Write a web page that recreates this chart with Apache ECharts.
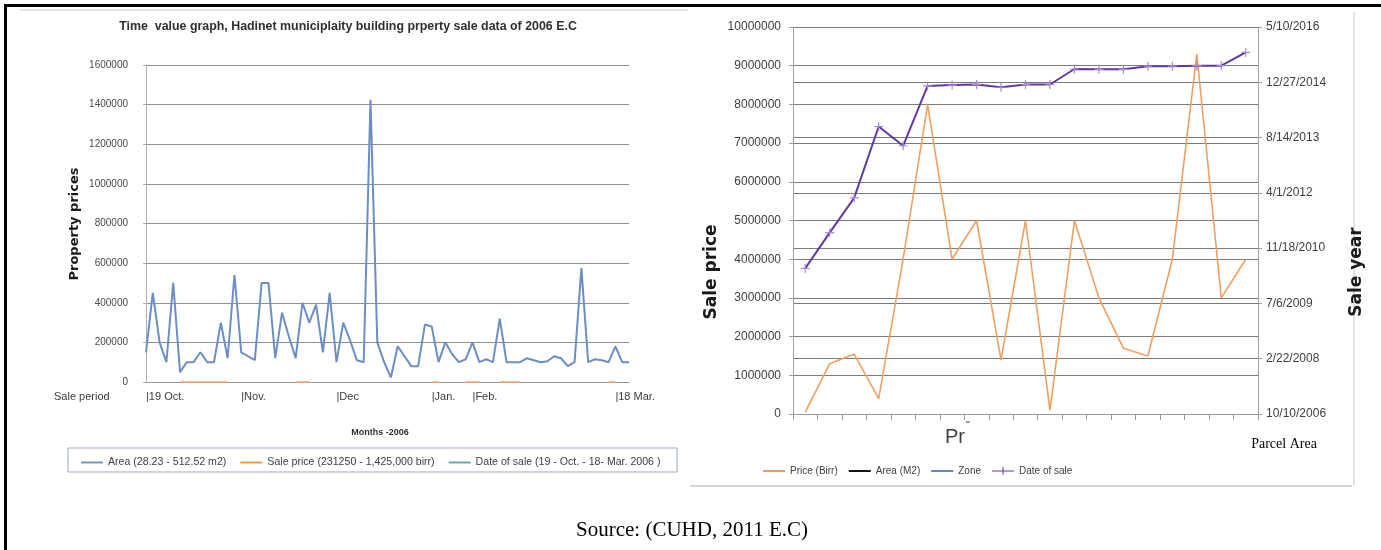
<!DOCTYPE html>
<html>
<head>
<meta charset="utf-8">
<script src="https://cdn.jsdelivr.net/npm/echarts@6/dist/echarts.min.js"></script>
<style>
  html, body { margin: 0; padding: 0; background: #fff; }
  #chart { width: 1381px; height: 550px; }
</style>
</head>
<body>
<div id="chart"></div>
<script>
// ---- Left panel: Hadinet property sales, Oct - Mar 2006 E.C ----
const salePrices = [
  150000, 450000, 200000, 100000, 500000, 50000, 100000, 100000, 150000, 100000,
  100000, 300000, 120000, 540000, 150000, 130000, 110000, 500000, 500000, 120000,
  350000, 230000, 120000, 400000, 300000, 390000, 150000, 450000, 100000, 300000,
  210000, 110000, 100000, 1425000, 200000, 100000, 23125, 180000, 130000, 80000,
  80000, 290000, 280000, 100000, 200000, 140000, 100000, 115000, 200000, 100000,
  115000, 100000, 320000, 100000, 100000, 100000, 120000, 110000, 100000, 105000,
  130000, 120000, 80000, 100000, 575000, 100000, 115000, 110000, 100000, 180000,
  100000, 100000
];
// second series sits on the baseline; visible stretches only
const baselineTrace = [
  null, null, null, null, null, 0, 0, 0, 0, 0,
  0, 0, 0, null, null, null, null, null, null, null,
  null, null, 0, 0, 0, null, null, null, null, null,
  null, null, null, null, null, null, null, null, null, null,
  null, null, 0, 0, null, null, null, 0, 0, 0,
  null, null, 0, 0, 0, 0, null, null, null, null,
  null, null, null, null, null, null, null, null, 0, 0,
  null, null
];
const periodLabels = { 0: '|19 Oct.', 14: '|Nov.', 28: '|Dec', 42: '|Jan.', 48: '|Feb.', 69: '|18 Mar.' };
const leftNames = ['Area (28.23 - 512.52 m2)', 'Sale price (231250 - 1,425,000 birr)', 'Date of sale (19 - Oct. - 18- Mar. 2006 )'];

// ---- Right panel: parcel sales, price vs date of sale ----
const parcelPrice = [
  50000, 1300000, 1550000, 400000, 4000000, 8000000, 4000000, 5000000, 1400000, 5000000,
  100000, 5000000, 3000000, 1700000, 1500000, 4000000, 9300000, 3000000, 4000000
];
// date of sale as spreadsheet day serials
const parcelDate = [
  40317, 40640, 40955, 41600, 41426, 41967, 41975, 41980, 41955, 41980,
  41980, 42120, 42117, 42117, 42146, 42146, 42150, 42150, 42270
];
const dateTicks = ['10/10/2006', '2/22/2008', '7/6/2009', '11/18/2010', '4/1/2012', '8/14/2013', '12/27/2014', '5/10/2016'];
const rightNames = ['Price (Birr)', 'Area (M2)', 'Zone', 'Date of sale'];

const SANS = '"Liberation Sans",Arial,sans-serif';
const BOLDSANS = '"DejaVu Sans",Verdana,sans-serif';
const SERIF = '"Liberation Serif","Times New Roman",serif';

const DATE_MIN = 39000, DATE_STEP = 500, DATE_MAX = 42500;
const plusPath = 'path://M5,0 L5,10 M0,5 L10,5';
const lineIcon = 'path://M0,0 L24,0 L24,2 L0,2 Z';
const plusLineIcon = 'path://M0,4.4 L24,4.4 L24,5.6 L0,5.6 Z M11.4,1 L12.6,1 L12.6,9 L11.4,9 Z';
const plain = v => String(v);

const chart = echarts.init(document.getElementById('chart'), null, { renderer: 'canvas' });

chart.setOption({
  backgroundColor: '#ffffff',
  animation: false,
  grid: [
    { left: 146, top: 65, width: 483, height: 317 },
    { left: 793, top: 27, width: 465, height: 387 }
  ],
  xAxis: [
    {
      gridIndex: 0, type: 'category', boundaryGap: false,
      data: salePrices.map((_, i) => periodLabels[i] || ''),
      axisLine: { lineStyle: { color: '#9a9a9a', width: 1 } },
      axisTick: { show: false },
      axisLabel: {
        interval: 0, align: 'left', margin: 9,
        color: '#3c3c3c', fontFamily: SANS, fontSize: 11
      },
      splitLine: { show: false }
    },
    {
      gridIndex: 1, type: 'category', boundaryGap: true,
      data: parcelPrice.map((_, i) => String(i + 1)),
      axisLine: { lineStyle: { color: '#9a9a9a', width: 1 } },
      axisTick: { show: true, length: 6, lineStyle: { color: '#9a9a9a' } },
      axisLabel: { show: false },
      splitLine: { show: false }
    }
  ],
  yAxis: [
    {
      gridIndex: 0, type: 'value', min: 0, max: 1600000, interval: 200000,
      axisLine: { show: true, lineStyle: { color: '#b0b0b0' } },
      axisTick: { show: true, length: 3, lineStyle: { color: '#b0b0b0' } },
      axisLabel: { color: '#4a4a4a', fontFamily: SANS, fontSize: 10, margin: 18, formatter: plain },
      splitLine: { lineStyle: { color: '#8f8f8f', width: 1 } }
    },
    {
      gridIndex: 1, type: 'value', min: 0, max: 10000000, interval: 1000000,
      axisLine: { show: true, lineStyle: { color: '#a0a0a0' } },
      axisTick: { show: true, length: 4, lineStyle: { color: '#a0a0a0' } },
      axisLabel: { color: '#404040', fontFamily: SANS, fontSize: 12, margin: 12, formatter: plain },
      splitLine: { lineStyle: { color: '#7a7a7a', width: 1 } }
    },
    {
      gridIndex: 1, type: 'value', position: 'right',
      min: DATE_MIN, max: DATE_MAX, interval: DATE_STEP,
      axisLine: { show: true, lineStyle: { color: '#a0a0a0' } },
      axisTick: { show: true, length: 4, lineStyle: { color: '#a0a0a0' } },
      axisLabel: {
        color: '#404040', fontFamily: SANS, fontSize: 12, margin: 8,
        formatter: v => dateTicks[Math.round((v - DATE_MIN) / DATE_STEP)]
      },
      splitLine: { show: true, lineStyle: { color: '#7a7a7a', width: 1 } }
    }
  ],
  legend: [
    {
      data: leftNames.map(n => ({ name: n, icon: lineIcon })),
      left: 76, top: 452,
      itemWidth: 22, itemHeight: 2, itemGap: 14,
      textStyle: { color: '#404040', fontFamily: SANS, fontSize: 10.6 }
    },
    {
      data: [
        { name: rightNames[0], icon: lineIcon },
        { name: rightNames[1], icon: lineIcon },
        { name: rightNames[2], icon: lineIcon },
        { name: rightNames[3], icon: plusLineIcon, itemStyle: { borderWidth: 0, color: '#6238a6' } }
      ],
      left: 758, top: 461, itemWidth: 22, itemGap: 11,
      textStyle: { color: '#404040', fontFamily: SANS, fontSize: 10 }
    }
  ],
  series: [
    {
      name: leftNames[0], type: 'line', xAxisIndex: 0, yAxisIndex: 0,
      data: salePrices, symbol: 'none', z: 4,
      lineStyle: { color: '#6b8fc4', width: 2 }, itemStyle: { color: '#6b8fc4' }
    },
    {
      name: leftNames[1], type: 'line', xAxisIndex: 0, yAxisIndex: 0,
      data: baselineTrace, symbol: 'none', connectNulls: false, z: 3,
      lineStyle: { color: '#f4a672', width: 2, opacity: 0.8 }, itemStyle: { color: '#f79646' }
    },
    {
      name: leftNames[2], type: 'line', xAxisIndex: 0, yAxisIndex: 0,
      data: [], symbol: 'none',
      lineStyle: { color: '#5aa89a', width: 2 }, itemStyle: { color: '#5aa89a' }
    },
    {
      name: rightNames[0], type: 'line', xAxisIndex: 1, yAxisIndex: 1,
      data: parcelPrice, symbol: 'none', z: 3,
      lineStyle: { color: '#f0a060', width: 1.6 }, itemStyle: { color: '#f0904a' }
    },
    {
      name: rightNames[1], type: 'line', xAxisIndex: 1, yAxisIndex: 1,
      data: [], symbol: 'none',
      lineStyle: { color: '#000000', width: 2 }, itemStyle: { color: '#000000' }
    },
    {
      name: rightNames[2], type: 'line', xAxisIndex: 1, yAxisIndex: 1,
      data: [], symbol: 'none',
      lineStyle: { color: '#4f81bd', width: 2 }, itemStyle: { color: '#4f81bd' }
    },
    {
      name: rightNames[3], type: 'line', xAxisIndex: 1, yAxisIndex: 2,
      data: parcelDate, symbol: plusPath, symbolSize: 9, z: 5,
      lineStyle: { color: '#6238a6', width: 2 },
      itemStyle: { color: '#6a3fb0', borderColor: '#a98ad6', borderWidth: 1.2 }
    }
  ],
  graphic: [
    // page frame
    { type: 'rect', shape: { x: 4, y: 4, width: 3, height: 546 }, style: { fill: '#000' }, silent: true },
    { type: 'rect', shape: { x: 4, y: 4, width: 1377, height: 3 }, style: { fill: '#000' }, silent: true },
    // panel outlines
    { type: 'line', shape: { x1: 20, y1: 10, x2: 688, y2: 10 }, style: { stroke: '#c8c8c8', lineWidth: 1 }, silent: true },
    { type: 'line', shape: { x1: 690, y1: 486, x2: 1352, y2: 486 }, style: { stroke: '#c8c8c8', lineWidth: 1.5 }, silent: true },
    { type: 'line', shape: { x1: 1354, y1: 12, x2: 1354, y2: 486 }, style: { stroke: '#e2e2e2', lineWidth: 2 }, silent: true },
    // left legend frame
    { type: 'rect', shape: { x: 68, y: 448, width: 609, height: 24 }, style: { fill: 'none', stroke: '#9aa7c4', lineWidth: 1 }, silent: true },
    // titles and axis names
    { type: 'text', x: 348, y: 27, style: { text: 'Time  value graph, Hadinet municiplaity building prperty sale data of 2006 E.C', align: 'center', verticalAlign: 'middle', fill: '#303030', font: 'bold 12.4px ' + SANS } },
    { type: 'text', x: 75, y: 224, rotation: Math.PI / 2, style: { text: 'Property prices', align: 'center', verticalAlign: 'middle', fill: '#1a1a1a', font: 'bold 13px ' + BOLDSANS } },
    { type: 'text', x: 54, y: 397, style: { text: 'Sale period', align: 'left', verticalAlign: 'middle', fill: '#3c3c3c', font: '11px ' + SANS } },
    { type: 'text', x: 380, y: 433, style: { text: 'Months -2006', align: 'center', verticalAlign: 'middle', fill: '#303030', font: 'bold 9px ' + SANS } },
    { type: 'text', x: 712, y: 272, rotation: Math.PI / 2, style: { text: 'Sale price', align: 'center', verticalAlign: 'middle', fill: '#1a1a1a', font: 'bold 17px ' + BOLDSANS } },
    { type: 'text', x: 1357, y: 272, rotation: Math.PI / 2, style: { text: 'Sale year', align: 'center', verticalAlign: 'middle', fill: '#1a1a1a', font: 'bold 17px ' + BOLDSANS } },
    { type: 'text', x: 955, y: 437, style: { text: 'Pr', align: 'center', verticalAlign: 'middle', fill: '#404040', font: '20px ' + SANS } },
    { type: 'text', x: 968, y: 428, style: { text: '\u02C7', align: 'center', verticalAlign: 'middle', fill: '#404040', font: '12px ' + SANS } },
    { type: 'text', x: 1284, y: 444, style: { text: 'Parcel Area', align: 'center', verticalAlign: 'middle', fill: '#000', font: '14px ' + SERIF } },
    { type: 'text', x: 692, y: 530, style: { text: 'Source: (CUHD, 2011 E.C)', align: 'center', verticalAlign: 'middle', fill: '#000', font: '21px ' + SERIF } }
  ]
});
</script>
</body>
</html>
